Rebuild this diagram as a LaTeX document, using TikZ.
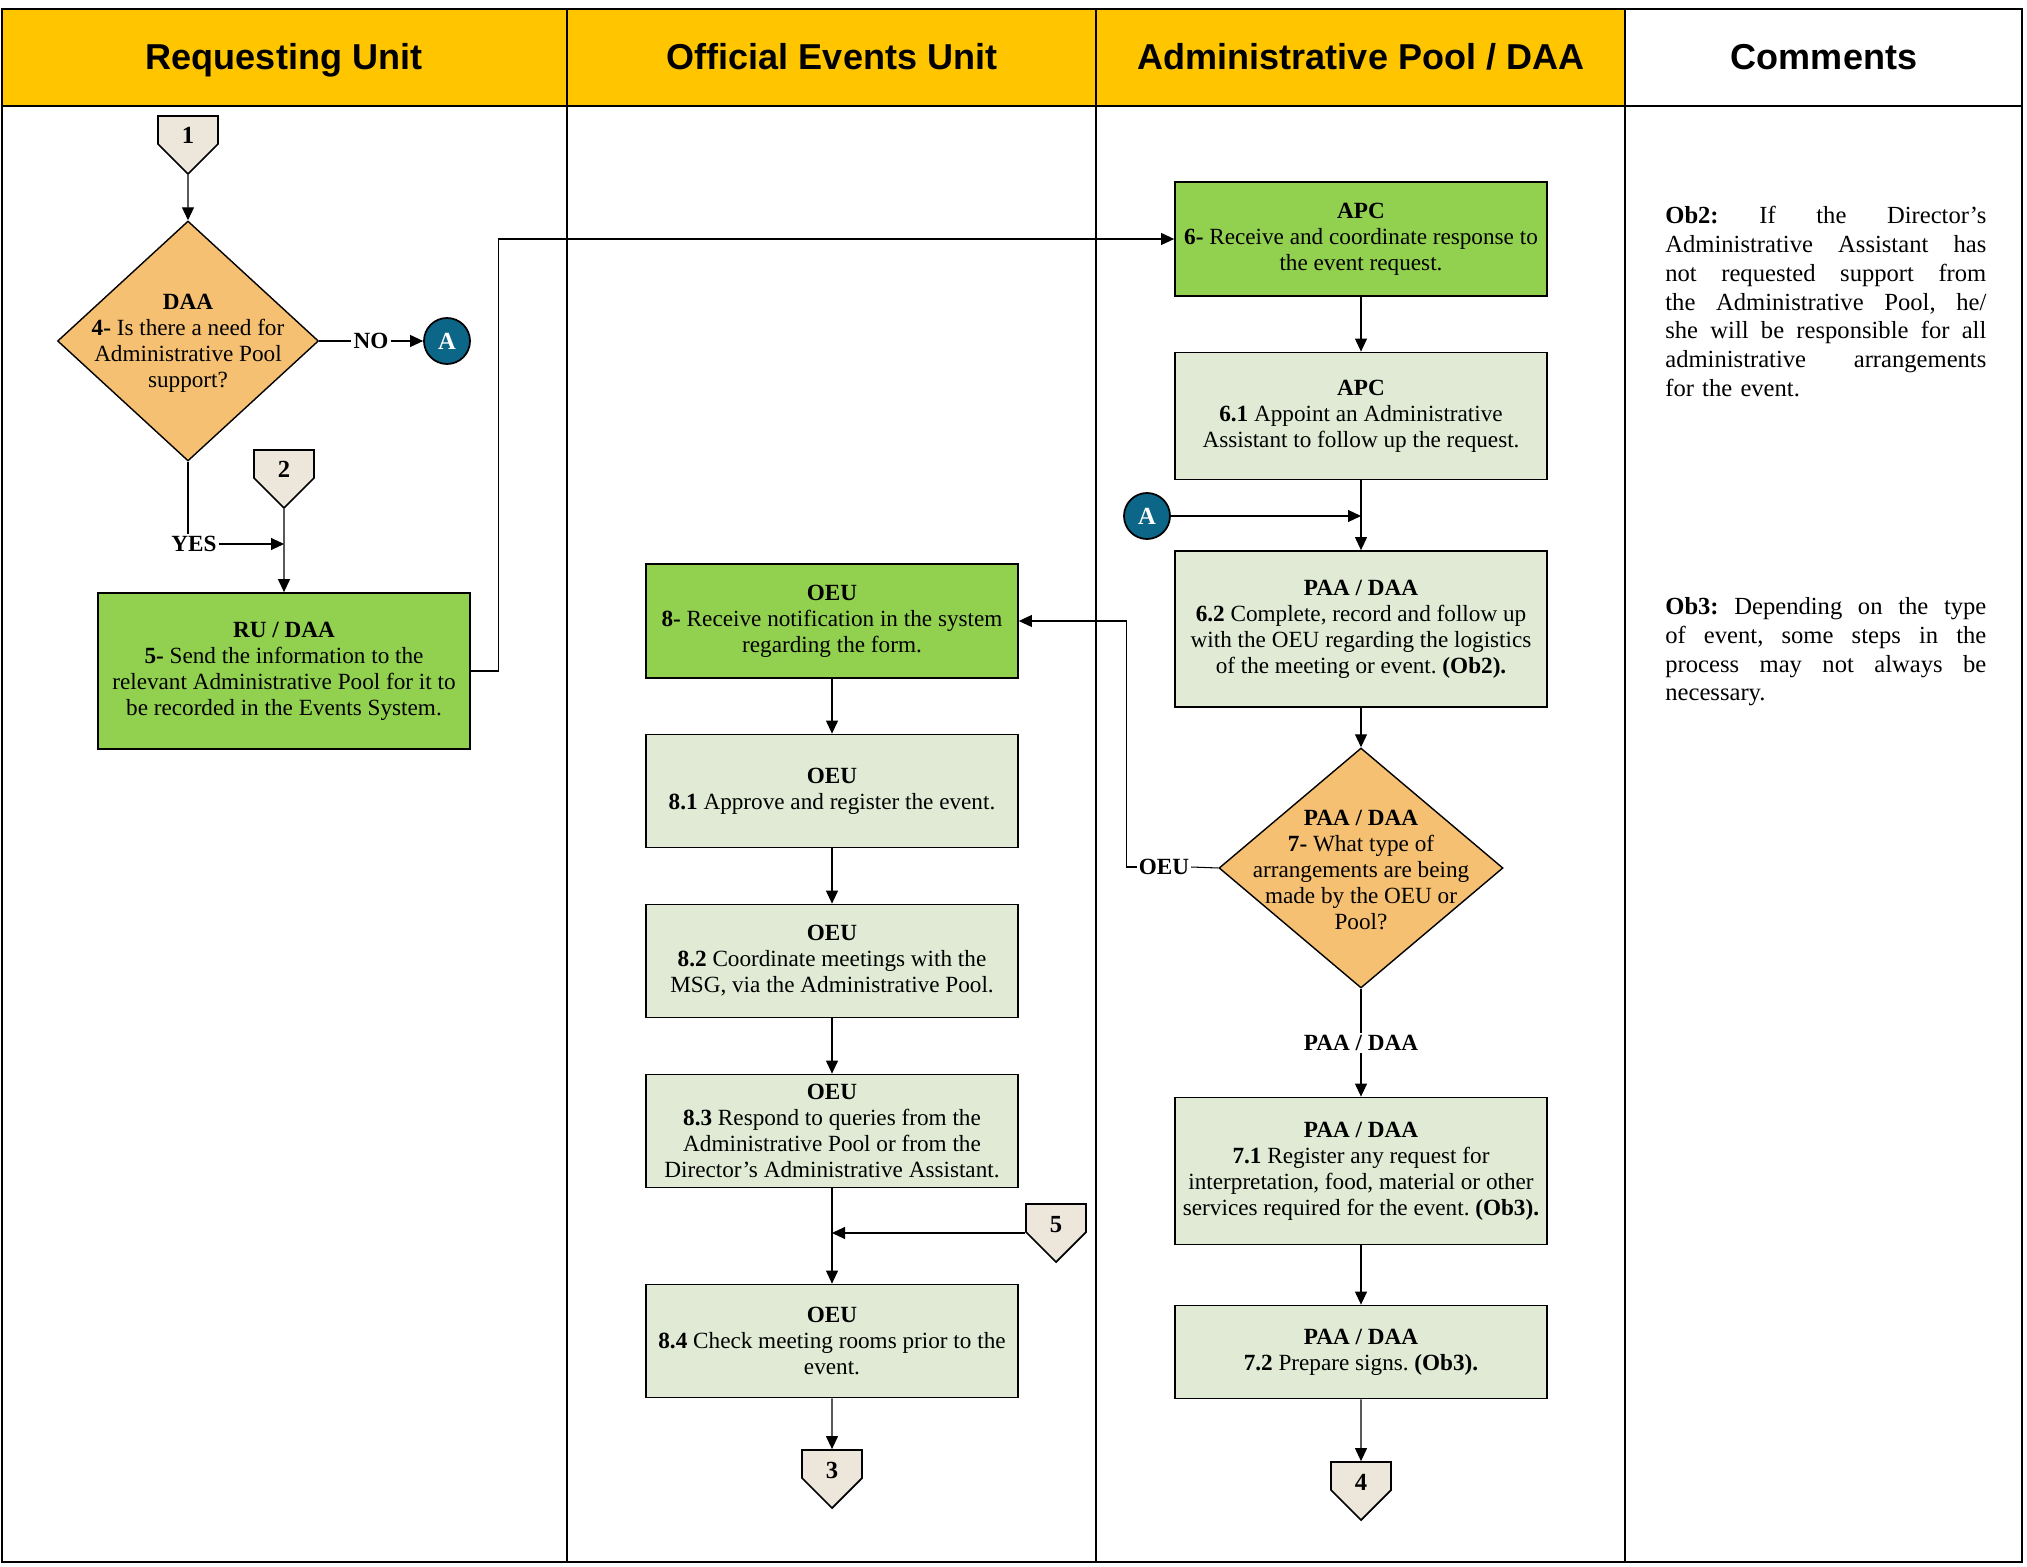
\documentclass[tikz,border=0pt]{standalone}
\usepackage{fontspec}
\setmainfont{Liberation Serif}
\newfontfamily\headfont{Liberation Sans}
\usetikzlibrary{shapes.geometric, shapes.symbols, arrows.meta}
\frenchspacing

\definecolor{lanegold}{HTML}{FFC600}
\definecolor{keygreen}{HTML}{92D050}
\definecolor{stepgreen}{HTML}{E0EAD4}
\definecolor{askorange}{HTML}{F5C071}
\definecolor{pagebeige}{HTML}{EDE6DB}
\definecolor{linkteal}{HTML}{0B6688}

\newcommand{\boxfont}{\fontsize{13.2}{14.8}\selectfont}
\newcommand{\notefont}{\fontsize{14}{16.4}\selectfont}
\newcommand{\lanefont}{\headfont\bfseries\fontsize{20.5}{24}\selectfont}
% one justified line of a comment, spaces stretched to the full width
\newcommand{\spreadline}[1]{\leavevmode\hbox to 64.2mm{\spaceskip=0.25em plus 1fil\xspaceskip=0.25em plus 1fil #1}}

\tikzstyle{lane} = [font=\lanefont, inner sep=0pt, anchor=base]
\tikzstyle{task} = [rectangle, draw=black, line width=1pt, fill=stepgreen, minimum width=74.4mm, inner xsep=1mm, align=center, font=\boxfont]
\tikzstyle{keytask} = [task, fill=keygreen]
\tikzstyle{decision} = [diamond, draw=black, line width=0.8pt, fill=askorange, inner sep=0pt]
\tikzstyle{asktext} = [align=center, font=\boxfont, inner sep=0pt]
\tikzstyle{offpage} = [signal, signal to=south, signal pointer angle=90, draw=black, line width=1pt, fill=pagebeige, minimum width=12mm, minimum height=6.2mm, inner sep=0pt, text height=5.6mm, text depth=0pt, font=\bfseries\fontsize{14}{16}\selectfont]
\tikzstyle{link} = [circle, draw=black, line width=1pt, fill=linkteal, text=white, minimum size=9.2mm, inner sep=0pt, font=\bfseries\fontsize{14}{16}\selectfont]
\tikzstyle{branch} = [font=\bfseries\boxfont, inner sep=1pt]
\tikzstyle{note} = [anchor=north west, text width=64.2mm, align=left, inner sep=0pt, font=\notefont]
\tikzstyle{line} = [line width=0.6pt]
\tikzstyle{arrow} = [line width=0.6pt, -{Triangle[length=2.6mm, width=2.4mm]}]

\begin{document}
\begin{tikzpicture}[x=0.2mm, y=-0.2mm, node distance=34mm]
    \useasboundingbox (0,0) rectangle (2027,1567);

    % swimlanes
    \fill[lanegold] (2,9) rectangle (1625,106);
    \draw[line width=1.2pt] (2,9) rectangle (2022,1562);
    \draw[line width=1.2pt] (2,106) -- (2022,106);
    \foreach \x in {567,1096,1625}
        \draw[line width=1.2pt] (\x,9) -- (\x,1562);

    \node (laneru) [lane] at (284,70) {Requesting Unit};
    \node (laneoeu) [lane] at (832,70) {Official Events Unit};
    \node (lanepool) [lane] at (1361,70) {Administrative Pool / DAA};
    \node (lanenote) [lane] at (1824,70) {Comments};

    % requesting unit
    \node (p1) [offpage] at (188,130) {1};
    \node (d4) [decision, minimum width=52.2mm, minimum height=48mm] at (188,341) {};
    \node (d4txt) [asktext] at (188,343) {\textbf{DAA}\\ \textbf{4-} Is there a need for\\ Administrative Pool\\ support?};
    \node (no) [branch] at (371,341) {NO};
    \node (a1) [link] at (447,341) {A};
    \node (p2) [offpage] at (284,464) {2};
    \node (yes) [branch] at (194,544) {YES};
    \node (ru) [keytask, minimum height=31.2mm] at (284,671) {\textbf{RU / DAA}\\ \textbf{5-} Send the information to the\\ relevant Administrative Pool for it to\\ be recorded in the Events System.};

    % official events unit
    \node (n8) [keytask, minimum height=22.8mm] at (832,621) {\textbf{OEU}\\ \textbf{8-} Receive notification in the system\\ regarding the form.};
    \node (n81) [task, minimum height=22.6mm, below of=n8] {\textbf{OEU}\\ \textbf{8.1} Approve and register the event.};
    \node (n82) [task, minimum height=22.6mm, below of=n81] {\textbf{OEU}\\ \textbf{8.2} Coordinate meetings with the\\ MSG, via the Administrative Pool.};
    \node (n83) [task, minimum height=22.6mm, below of=n82] {\textbf{OEU}\\ \textbf{8.3} Respond to queries from the\\ Administrative Pool or from the\\ Director’s Administrative Assistant.};
    \node (n84) [task, minimum height=22.6mm, below of=n83, node distance=42mm] {\textbf{OEU}\\ \textbf{8.4} Check meeting rooms prior to the\\ event.};
    \node (p5) [offpage] at (1056,1218) {5};
    \node (p3) [offpage] at (832,1464) {3};

    % administrative pool
    \node (apc6) [keytask, minimum height=22.8mm] at (1361,239) {\textbf{APC}\\ \textbf{6-} Receive and coordinate response to\\ the event request.};
    \node (apc61) [task, minimum height=25.4mm] at (1361,416) {\textbf{APC}\\ \textbf{6.1} Appoint an Administrative\\ Assistant to follow up the request.};
    \node (a2) [link] at (1147,516) {A};
    \node (paa62) [task, minimum height=31.2mm] at (1361,629) {\textbf{PAA / DAA}\\ \textbf{6.2} Complete, record and follow up\\ with the OEU regarding the logistics\\ of the meeting or event. \textbf{(Ob2).}};
    \node (d7) [decision, minimum width=56.8mm, minimum height=48mm] at (1361,868) {};
    \node (d7txt) [asktext] at (1361,870) {\textbf{PAA / DAA}\\ \textbf{7-} What type of\\ arrangements are being\\ made by the OEU or\\ Pool?};
    \node (oeu) [branch] at (1164,867) {OEU};
    \node (paa) [branch] at (1361,1043) {PAA / DAA};
    \node (paa71) [task, minimum height=29.4mm] at (1361,1171) {\textbf{PAA / DAA}\\ \textbf{7.1} Register any request for\\ interpretation, food, material or other\\ services required for the event. \textbf{(Ob3).}};
    \node (paa72) [task, minimum height=18.6mm] at (1361,1352) {\textbf{PAA / DAA}\\ \textbf{7.2} Prepare signs. \textbf{(Ob3).}};
    \node (p4) [offpage] at (1361,1476) {4};

    % comments
    \node (ob2) [note] at (1665,206) {\spreadline{\textbf{Ob2:} If the Director’s}\\
        \spreadline{Administrative Assistant has}\\
        \spreadline{not requested support from}\\
        \spreadline{the Administrative Pool, he/}\\
        \spreadline{she will be responsible for all}\\
        \spreadline{administrative arrangements}\\
        for the event.};
    \node (ob3) [note] at (1665,597) {\spreadline{\textbf{Ob3:} Depending on the type}\\
        \spreadline{of event, some steps in the}\\
        \spreadline{process may not always be}\\
        necessary.};

    % connectors
    \draw [arrow] (p1) -- (d4);
    \draw [line] (d4.east) -- (no.west);
    \draw [arrow] (no.east) -- (a1.west);
    \draw [line] (d4.south) -- (d4.south |- yes.north);
    \draw [arrow] (yes.east) -- (yes.east -| p2.south);
    \draw [arrow] (p2) -- (ru);
    \draw [arrow] (ru.east) -- ++(28,0) |- (apc6.west);

    \draw [arrow] (apc6) -- (apc61);
    \draw [arrow] (apc61) -- (paa62);
    \draw [arrow] (a2.east) -- (a2.east -| apc61.south);
    \draw [arrow] (paa62) -- (d7);
    \draw [line] (d7.west) -- (oeu.east);
    \draw [arrow] (oeu.west) -- ++(-10,0) |- (n8.east);
    \draw [line] (d7.south) -- (paa.north);
    \draw [arrow] (paa.south) -- (paa71.north);
    \draw [arrow] (paa71) -- (paa72);
    \draw [arrow] (paa72) -- (p4);

    \draw [arrow] (n8) -- (n81);
    \draw [arrow] (n81) -- (n82);
    \draw [arrow] (n82) -- (n83);
    \draw [arrow] (n83) -- (n84);
    \draw [arrow] ([yshift=-3mm]p5.west) -- ([yshift=-3mm]p5.west -| n83.south);
    \draw [arrow] (n84) -- (p3);

\end{tikzpicture}
\end{document}
